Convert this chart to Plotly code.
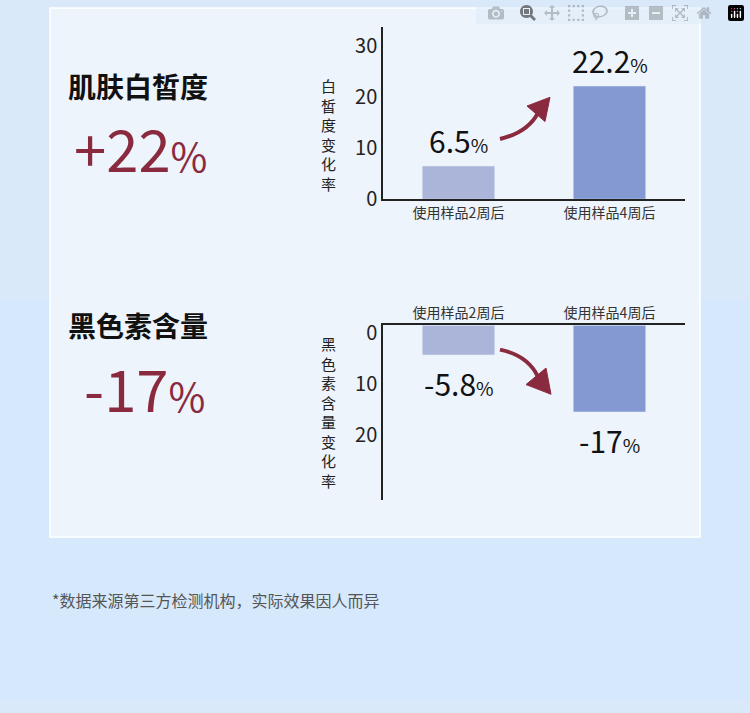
import plotly.graph_objects as go

W, H = 750, 713
categories = ["使用样品2周后", "使用样品4周后"]
whiten_vals = [6.5, 22.2]
melanin_vals = [5.8, 17]
whiten_labels = ["6.5", "22.2"]
melanin_labels = ["-5.8", "-17"]
bar_colors = ["#abb5d9", "#8499d1"]
RED = "#8a2a3f"
FONT = "Noto Sans CJK SC"

def px(x): return x / W
def py(y): return 1 - y / H

fig = go.Figure()
fig.add_trace(go.Bar(x=categories, y=whiten_vals, marker_color=bar_colors, width=0.48,
                     xaxis="x", yaxis="y", showlegend=False))
fig.add_trace(go.Bar(x=categories, y=melanin_vals, marker_color=bar_colors, width=0.48,
                     xaxis="x2", yaxis="y2", showlegend=False))

axcommon = dict(showgrid=False, zeroline=False, ticks="", tickfont=dict(size=14, color="#333", family=FONT))
ycommon = dict(showgrid=False, zeroline=False, ticks="", showline=True, linecolor="#222", linewidth=1.5,
               tickfont=dict(size=20, color="#222", family=FONT))
fig.update_layout(
    width=W, height=H, margin=dict(l=0, r=0, t=0, b=0),
    paper_bgcolor="#d9e9fa", plot_bgcolor="rgba(0,0,0,0)",
    font=dict(family=FONT),
    xaxis=dict(domain=[px(383), px(685)], anchor="y", showline=True, linecolor="#222", linewidth=1.5, **axcommon),
    yaxis=dict(domain=[py(197), py(20)], anchor="x", range=[0, 33.7], tickvals=[0, 10, 20, 30], **ycommon),
    xaxis2=dict(domain=[px(383), px(685)], anchor="y2", side="top", showline=True, linecolor="#222", linewidth=1.5, **axcommon),
    yaxis2=dict(domain=[py(507), py(327)], anchor="x2", range=[34.3, 0], ticklabelshift=-8,
                tickvals=[0, 10, 20], **ycommon),
    bargap=0.5,
)

shapes = [
    dict(type="rect", xref="paper", yref="paper", x0=0, x1=1, y0=py(713), y1=py(300),
         fillcolor="#d6e8fb", line_width=0, layer="below"),
    dict(type="rect", xref="paper", yref="paper", x0=px(50), x1=px(700), y0=py(545), y1=py(0),
         fillcolor="#eef4fb", line=dict(color="#ffffff", width=1.5), layer="below"),
]
shapes.append(dict(type="path", xref="paper", yref="paper",
                   path=f"M {px(500)} {py(135)} Q {px(528)} {py(128)} {px(538)} {py(108)}",
                   line=dict(color=RED, width=4)))
shapes.append(dict(type="path", xref="paper", yref="paper",
                   path=f"M {px(550)} {py(92)} L {px(527)} {py(101)} L {px(545)} {py(117)} Z",
                   fillcolor=RED, line=dict(color=RED, width=1)))
shapes.append(dict(type="path", xref="paper", yref="paper",
                   path=f"M {px(500)} {py(352)} Q {px(528)} {py(358)} {px(538)} {py(380)}",
                   line=dict(color=RED, width=4)))
shapes.append(dict(type="path", xref="paper", yref="paper",
                   path=f"M {px(551)} {py(398)} L {px(526)} {py(388)} L {px(546)} {py(371)} Z",
                   fillcolor=RED, line=dict(color=RED, width=1)))
fig.update_layout(shapes=shapes)

ann = []
def text(x, y, t, size, color="#111", xanchor="center", bold=False):
    ann.append(dict(x=px(x), y=py(y), xref="paper", yref="paper", text=f"<b>{t}</b>" if bold else t,
                    showarrow=False, xanchor=xanchor, yanchor="middle",
                    font=dict(size=size, color=color, family=FONT)))

text(66, 80, "肌肤白皙度", 28, "#111", "left", True)
text(72, 143, "+22<span style='font-size:40px'>%</span>", 58, RED, "left")
text(66, 327, "黑色素含量", 28, "#111", "left", True)
text(82, 390, "-17<span style='font-size:40px'>%</span>", 58, RED, "left")
text(328, 130, "白<br>皙<br>度<br>变<br>化<br>率", 15, "#222")
text(328, 416, "黑<br>色<br>素<br>含<br>量<br>变<br>化<br>率", 15, "#222")
for i, (v, lab) in enumerate(zip(whiten_vals, whiten_labels)):
    ann.append(dict(x=categories[i], y=v, xref="x", yref="y", yshift=26, showarrow=False,
                    text=f"{lab}<span style='font-size:19px'>%</span>",
                    font=dict(size=30, color="#111", family=FONT)))
for i, (v, lab) in enumerate(zip(melanin_vals, melanin_labels)):
    ann.append(dict(x=categories[i], y=v, xref="x2", yref="y2", yshift=-28, showarrow=False,
                    text=f"{lab}<span style='font-size:19px'>%</span>",
                    font=dict(size=30, color="#111", family=FONT)))
text(50, 610, "*数据来源第三方检测机构，实际效果因人而异", 16, "#555", "left")
fig.update_layout(annotations=ann)
fig.write_html("out.html", post_script="document.body.style.margin='0';document.body.style.background='#d9e9fa';")
